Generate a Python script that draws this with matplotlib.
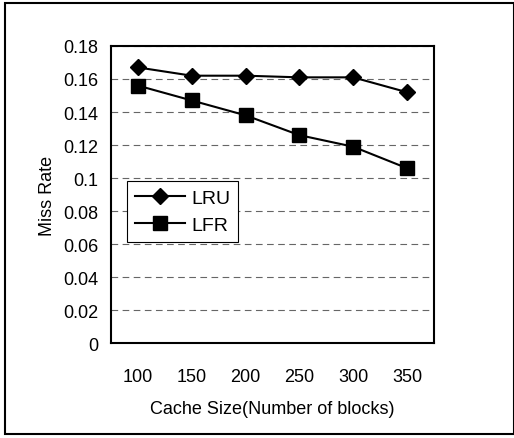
import matplotlib
matplotlib.use("Agg")
import matplotlib.pyplot as plt
from matplotlib.patches import Rectangle

cache_sizes = ["100", "150", "200", "250", "300", "350"]
lru = [0.167, 0.162, 0.162, 0.161, 0.161, 0.152]
lfr = [0.156, 0.147, 0.138, 0.126, 0.119, 0.106]
yticks = [0, 0.02, 0.04, 0.06, 0.08, 0.1, 0.12, 0.14, 0.16, 0.18]
ytick_labels = ["0", "0.02", "0.04", "0.06", "0.08", "0.1", "0.12", "0.14", "0.16", "0.18"]

plt.rcParams['font.family'] = ['Liberation Sans', 'DejaVu Sans']

fig = plt.figure(figsize=(5.14, 4.39), dpi=100)
ax = fig.add_axes([0.216, 0.216, 0.628, 0.677])

x = list(range(len(cache_sizes)))
ax.plot(x, lru, color='black', lw=1.5, marker='D', ms=8, label='LRU')
ax.plot(x, lfr, color='black', lw=1.5, marker='s', ms=10, label='LFR')

ax.set_xlim(-0.5, len(cache_sizes) - 0.5)
ax.set_ylim(0, 0.18)
ax.set_xticks(x)
ax.set_xticklabels(cache_sizes, fontsize=13)
ax.set_yticks(yticks)
ax.set_yticklabels(ytick_labels, fontsize=13)
ax.tick_params(axis='x', length=0, pad=18)
ax.tick_params(axis='y', length=0, pad=9)
ax.yaxis.grid(True, color='#666666', lw=0.8, ls=(0, (6, 4)))
ax.set_axisbelow(True)
for s in ax.spines.values():
    s.set_linewidth(1.5)
    s.set_color('black')

ax.set_xlabel("Cache Size(Number of blocks)", fontsize=13, labelpad=11)
ax.set_ylabel("Miss Rate", fontsize=13, labelpad=5)

leg = ax.legend(loc='upper left', bbox_to_anchor=(0.05, 0.545), borderaxespad=0,
                fontsize=14, frameon=True, fancybox=False, edgecolor='black',
                framealpha=1, handlelength=2.6, borderpad=0.4, labelspacing=0.5,
                handletextpad=0.3)
leg.get_frame().set_linewidth(0.8)

fig.patches.append(Rectangle((0.01, 0.01), 0.99, 0.98, transform=fig.transFigure,
                             fill=False, edgecolor='black', lw=1.5))

fig.savefig("out.png", dpi=100)
